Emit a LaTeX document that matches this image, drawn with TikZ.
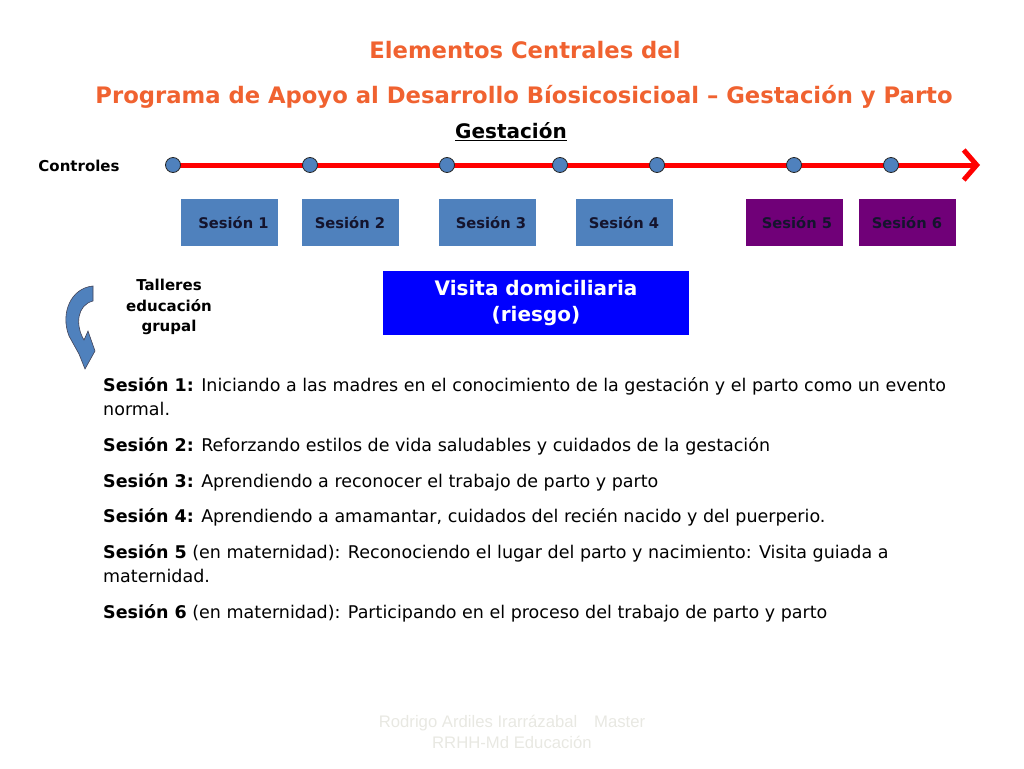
\documentclass[tikz,border=0pt]{standalone}
\usepackage{fontspec}
\setmainfont{DejaVu Sans}
\newfontfamily\footfont{Liberation Sans}
\usetikzlibrary{arrows.meta,positioning}
\definecolor{titleorange}{RGB}{240,98,48}
\definecolor{sesblue}{RGB}{79,129,189}
\definecolor{sespurple}{RGB}{112,0,120}
\definecolor{sestext}{RGB}{20,20,45}
\definecolor{visitblue}{RGB}{0,0,255}
\definecolor{footgray}{RGB}{232,232,226}

\begin{document}
\begin{tikzpicture}[x=1pt,y=-1pt,>=Stealth]
\tikzset{sesbox/.style={fill=sesblue,minimum width=97pt,minimum height=47pt,inner sep=0pt,
    text=sestext,font=\fontsize{14.7}{17}\selectfont\bfseries},
  controlpt/.style={circle,draw=black!85,fill=sesblue,line width=0.8pt,minimum size=15pt,inner sep=0pt},
  itemtext/.style={anchor=north west,inner sep=0pt,align=left,font=\fontsize{17.5}{24}\selectfont}}
\useasboundingbox (0,0) rectangle (1024,768);
% ---------- title ----------
\node[text=titleorange,font=\fontsize{22.7}{26}\selectfont\bfseries] (title1) at (525,50) {Elementos Centrales del};
\node[text=titleorange,font=\fontsize{22.7}{26}\selectfont\bfseries] (title2) at (524,97)
  {Programa de Apoyo al Desarrollo Bíosicosicioal – Gestación y Parto};
\node[font=\fontsize{20}{22}\selectfont\bfseries] (gest) at (511,132) {\underline{Gestación}};
% ---------- timeline of controls ----------
\node[font=\fontsize{15}{17}\selectfont\bfseries] (controles) at (79,166) {Controles};
\coordinate (tstart) at (173,165);
\coordinate (tend) at (980,165);
\draw[red,line width=5pt,-{Straight Barb[length=13pt,width=30pt,line width=5pt]}] (tstart) -- (tend);
\foreach \n/\x in {1/173,2/310,3/447,4/560,5/657,6/794,7/891}
  \node[controlpt] (c\n) at (\x,165) {};
% ---------- session boxes ----------
\node[sesbox] (ses1) at (229.5,222.5) {\hspace*{8pt}Sesión 1};
\node[sesbox] (ses2) at (350,222.5) {Sesión 2};
\node[sesbox] (ses3) at (487,222.5) {\hspace*{8pt}Sesión 3};
\node[sesbox] (ses4) at (624,222.5) {Sesión 4};
\node[sesbox,fill=sespurple] (ses5) at (794,222.5) {\hspace*{6pt}Sesión 5};
\node[sesbox,fill=sespurple] (ses6) at (907,222.5) {Sesión 6};
% ---------- talleres + home visit ----------
\node[align=center,font=\fontsize{15}{20.5}\selectfont\bfseries] (talleres) at (169,307)
  {Talleres\\educación\\grupal};
\draw[fill=sesblue,draw=sestext!80,line width=0.6pt]
  (93,286) .. controls (71,288) and (60,313) .. (69,336)
  -- (79,354) -- (85,369) -- (95,351) -- (88,331) -- (84,340)
  .. controls (75,325) and (77,305) .. (93,301) -- cycle;
\node[fill=visitblue,text=white,minimum width=306pt,minimum height=64pt,align=center,
  font=\fontsize{20}{26}\selectfont\bfseries] (visita) at (536,303) {Visita domiciliaria\\(riesgo)};
% ---------- session descriptions ----------
\node[itemtext] (item1) at (103,377) {\textbf{Sesión 1:} Iniciando a las madres en el conocimiento de la gestación y el parto como un evento\\normal.};
\node[itemtext] (item2) at (103,437) {\textbf{Sesión 2:} Reforzando estilos de vida saludables y cuidados de la gestación};
\node[itemtext] (item3) at (103,473) {\textbf{Sesión 3:} Aprendiendo a reconocer el trabajo de parto y parto};
\node[itemtext] (item4) at (103,508) {\textbf{Sesión 4:} Aprendiendo a amamantar, cuidados del recién nacido y del puerperio.};
\node[itemtext] (item5) at (103,544) {\textbf{Sesión 5} (en maternidad): Reconociendo el lugar del parto y nacimiento: Visita guiada a\\maternidad.};
\node[itemtext] (item6) at (103,604) {\textbf{Sesión 6} (en maternidad): Participando en el proceso del trabajo de parto y parto};
% ---------- footer ----------
\node[text=footgray,align=center,font=\footfont\fontsize{16.7}{21}\selectfont] (footer) at (512,732)
  {Rodrigo Ardiles Irarrázabal\quad Master\\RRHH-Md Educación};
\end{tikzpicture}
\end{document}
